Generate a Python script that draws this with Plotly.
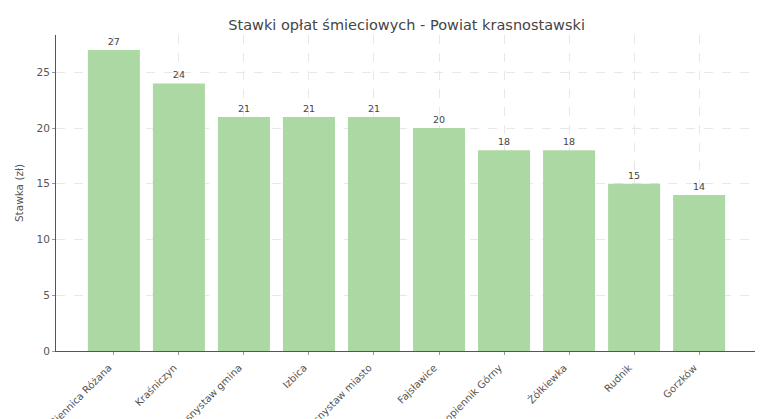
import plotly.graph_objects as go

gminy = ["Siennica Różana", "Kraśniczyn", "Krasnystaw gmina", "Izbica", "Krasnystaw miasto",
         "Fajsławice", "Łopiennik Górny", "Żółkiewka", "Rudnik", "Gorzków"]
stawki = [27, 24, 21, 21, 21, 20, 18, 18, 15, 14]
y_ticks = [0, 5, 10, 15, 20, 25]

font_family = "DejaVu Sans"

fig = go.Figure(go.Bar(
    x=list(range(len(gminy))),
    y=stawki,
    width=0.8,
    marker=dict(color="#acd8a4", line=dict(width=0)),
    text=[str(v) for v in stawki],
    textposition="outside",
    textfont=dict(size=9.5, color="#444444", family=font_family),
    cliponaxis=False,
))

# page body has an 8px offset, so the figure is sized to fit the window
fig.update_layout(
    width=755, height=411,
    margin=dict(l=48, r=6, t=27, b=68, autoexpand=False),
    paper_bgcolor="white", plot_bgcolor="white",
    font=dict(family=font_family, color="#555555", size=10),
    title=dict(text="Stawki opłat śmieciowych - Powiat krasnostawski",
               x=0.528, xanchor="center", y=0.959, yanchor="middle",
               font=dict(size=14.5, color="#444444", family=font_family)),
    showlegend=False,
    bargap=0.2,
)

fig.update_xaxes(
    tickmode="array", tickvals=list(range(len(gminy))), ticktext=gminy,
    tickangle=-45, tickfont=dict(size=10, color="#555555"),
    ticklabelshift=-5, ticklabelstandoff=3,
    range=[-0.89, 9.89],
    showline=True, linecolor="#555555", linewidth=1,
    ticks="outside", ticklen=3, tickcolor="#999999",
    showgrid=True, gridcolor="#e8e8e8", griddash="dash", gridwidth=0.6,
    automargin=False, zeroline=False,
)
fig.update_yaxes(
    tickmode="array", tickvals=y_ticks,
    range=[0, 28.35],
    title=dict(text="Stawka (zł)", font=dict(size=10.5, color="#555555"), standoff=10),
    tickfont=dict(size=10.5, color="#555555"),
    showline=True, linecolor="#555555", linewidth=1,
    ticks="outside", ticklen=3, tickcolor="#999999",
    showgrid=True, gridcolor="#e8e8e8", griddash="dash", gridwidth=0.6,
    automargin=False, zeroline=False,
)

fig.write_html("out.html")
